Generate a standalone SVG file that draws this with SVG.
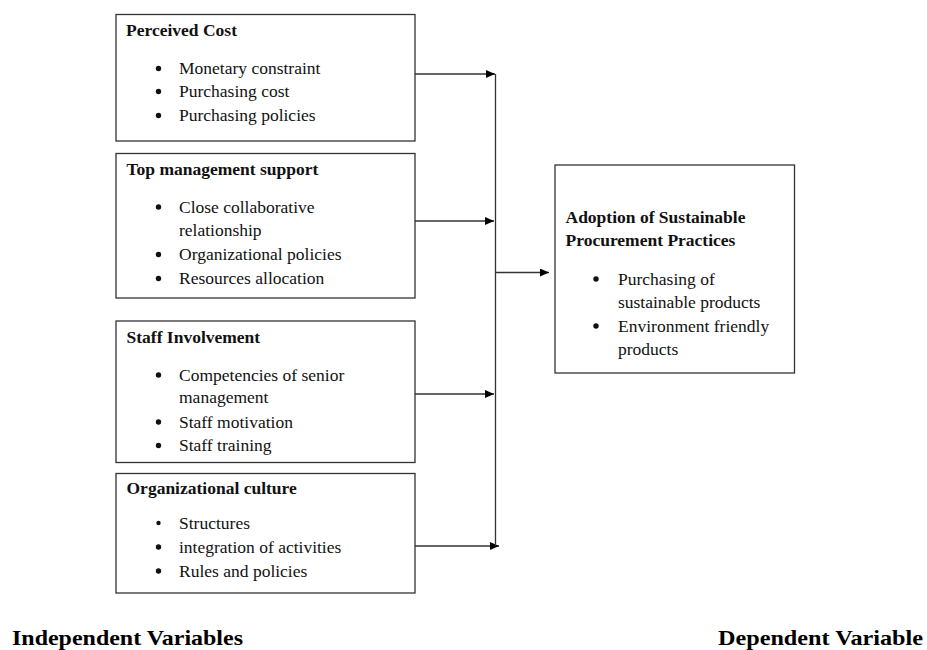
<svg xmlns="http://www.w3.org/2000/svg" width="927" height="650" viewBox="0 0 927 650">
<defs>
<style>
.box{fill:#fff;stroke:#333;stroke-width:1.3}
.t{font-family:"Liberation Serif","Times New Roman",serif;font-size:17.5px;fill:#111}
.b{font-weight:bold}
.lab{font-family:"Liberation Serif","Times New Roman",serif;font-size:21px;font-weight:bold;fill:#000}
.dot{fill:#111}
.ln{stroke:#333;stroke-width:1.3;fill:none}
</style>
<marker id="ah" markerWidth="10" markerHeight="8" refX="9" refY="4" orient="auto" markerUnits="userSpaceOnUse">
<path d="M0,0 L9,4 L0,8 Z" fill="#000"/>
</marker>
</defs>
<rect width="927" height="650" fill="#fff"/>

<g id="connectors">
<line class="ln" x1="415" y1="74" x2="495" y2="74" marker-end="url(#ah)"/>
<line class="ln" x1="415" y1="221" x2="494" y2="221" marker-end="url(#ah)"/>
<line class="ln" x1="415" y1="394" x2="494" y2="394" marker-end="url(#ah)"/>
<line class="ln" x1="415" y1="546" x2="499" y2="546" marker-end="url(#ah)"/>
<line class="ln" x1="495.5" y1="74" x2="495.5" y2="546"/>
<line class="ln" x1="495.5" y1="272.5" x2="549" y2="272.5" marker-end="url(#ah)"/>
</g>

<g id="perceived-cost">
<rect class="box" x="116" y="14.5" width="299" height="126.5"/>
<text class="t b" x="126" y="36">Perceived Cost</text>
<circle class="dot" cx="158.5" cy="68.5" r="2.7"/>
<circle class="dot" cx="158.5" cy="91.5" r="2.7"/>
<circle class="dot" cx="158.5" cy="115.5" r="2.7"/>
<text class="t" x="179" y="74">Monetary constraint</text>
<text class="t" x="179" y="97">Purchasing cost</text>
<text class="t" x="179" y="121">Purchasing policies</text>
</g>

<g id="top-management-support">
<rect class="box" x="116" y="153.5" width="299" height="144.5"/>
<text class="t b" x="126.5" y="175">Top management support</text>
<circle class="dot" cx="158.5" cy="207" r="2.7"/>
<circle class="dot" cx="158.5" cy="254.5" r="2.7"/>
<circle class="dot" cx="158.5" cy="278.5" r="2.7"/>
<text class="t" x="179" y="212.5">Close collaborative</text>
<text class="t" x="179" y="236">relationship</text>
<text class="t" x="179" y="260">Organizational policies</text>
<text class="t" x="179" y="284">Resources allocation</text>
</g>

<g id="staff-involvement">
<rect class="box" x="116" y="321" width="299" height="141.5"/>
<text class="t b" x="126.5" y="342.5">Staff Involvement</text>
<circle class="dot" cx="158.5" cy="375" r="2.7"/>
<circle class="dot" cx="158.5" cy="422" r="2.7"/>
<circle class="dot" cx="158.5" cy="445.5" r="2.7"/>
<text class="t" x="179" y="380.5">Competencies of senior</text>
<text class="t" x="179" y="403">management</text>
<text class="t" x="179" y="427.5">Staff motivation</text>
<text class="t" x="179" y="451">Staff training</text>
</g>

<g id="organizational-culture">
<rect class="box" x="116" y="473.5" width="299" height="119.5"/>
<text class="t b" x="126.5" y="494">Organizational culture</text>
<circle class="dot" cx="158.5" cy="523" r="2.2"/>
<circle class="dot" cx="158.5" cy="547" r="2.7"/>
<circle class="dot" cx="158.5" cy="571" r="2.7"/>
<text class="t" x="179" y="528.5">Structures</text>
<text class="t" x="179" y="552.5">integration of activities</text>
<text class="t" x="179" y="576.5">Rules and policies</text>
</g>

<g id="adoption-sustainable-procurement">
<rect class="box" x="555" y="165" width="239.5" height="208"/>
<text class="t b" x="565.5" y="223">Adoption of Sustainable</text>
<text class="t b" x="565.5" y="246">Procurement Practices</text>
<circle class="dot" cx="596" cy="279" r="2.7"/>
<circle class="dot" cx="596" cy="326" r="2.7"/>
<text class="t" x="618" y="284.5">Purchasing of</text>
<text class="t" x="618" y="308">sustainable products</text>
<text class="t" x="618" y="331.5">Environment friendly</text>
<text class="t" x="618" y="355">products</text>
</g>

<g id="labels">
<text class="lab" x="12" y="645" textLength="231" lengthAdjust="spacingAndGlyphs">Independent Variables</text>
<text class="lab" x="718" y="645" textLength="205" lengthAdjust="spacingAndGlyphs">Dependent Variable</text>
</g>
</svg>
